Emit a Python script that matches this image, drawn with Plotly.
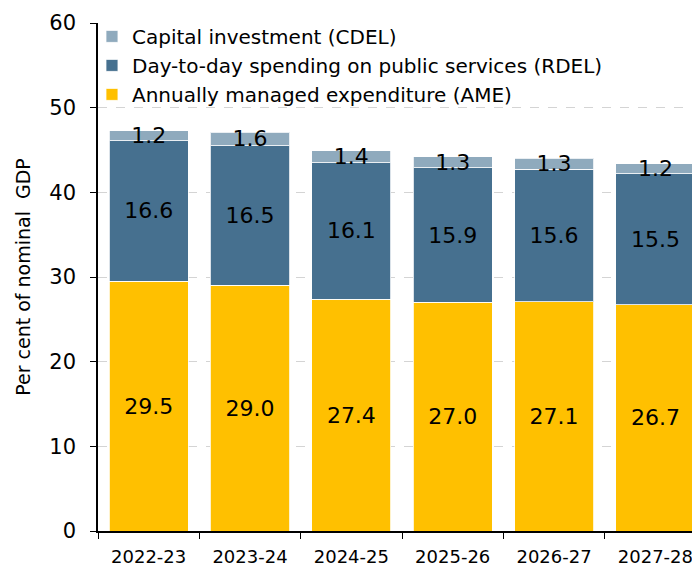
import plotly.graph_objects as go

years = ["2022-23", "2023-24", "2024-25", "2025-26", "2026-27", "2027-28"]
ame = [29.5, 29.0, 27.4, 27.0, 27.1, 26.7]
rdel = [16.6, 16.5, 16.1, 15.9, 15.6, 15.5]
cdel = [1.2, 1.6, 1.4, 1.3, 1.3, 1.2]
y_ticks = [0, 10, 20, 30, 40, 50, 60]

FONT = "DejaVu Sans"
COL_AME = "#FFC000"
COL_RDEL = "#46708F"
COL_CDEL = "#8FAABD"

fig = go.Figure()

def add(name, vals, color):
    fig.add_trace(go.Bar(
        x=years, y=vals, name=name,
        marker=dict(color=color, line=dict(color="rgba(255,255,255,0.8)", width=1)),
        text=[f"{v:.1f}" for v in vals],
        textposition="inside", insidetextanchor="middle",
        constraintext="none",
        textfont=dict(family=FONT, size=22, color="black"),
    ))

add("Annually managed expenditure (AME)", ame, COL_AME)
add("Day-to-day spending on public services (RDEL)", rdel, COL_RDEL)
add("Capital investment (CDEL)", cdel, COL_CDEL)

# the page body has an 8px margin, so the figure is sized to fit the 700x568 window
fig.update_layout(
    width=692, height=560,
    barmode="stack", bargap=0.22,
    plot_bgcolor="white", paper_bgcolor="white",
    margin=dict(l=90, r=0, t=15, b=37),
    font=dict(family=FONT, color="black"),
    showlegend=True,
    legend=dict(
        x=-0.01, y=1.012, xanchor="left", yanchor="top",
        traceorder="reversed",
        font=dict(family=FONT, size=20, color="black"),
        bgcolor="rgba(255,255,255,0)",
        itemwidth=30, tracegroupgap=0,
    ),
    xaxis=dict(
        range=[-0.5, 5.44],
        showline=True, linecolor="black", linewidth=1.5,
        ticks="outside", tickson="boundaries", ticklen=6, tickcolor="black",
        tickfont=dict(family=FONT, size=18, color="black"),
        ticklabelstandoff=9,
        showgrid=False, automargin=False,
    ),
    yaxis=dict(
        range=[0, 60], tickvals=y_ticks,
        showline=True, linecolor="black", linewidth=1.5,
        ticks="outside", ticklen=6, tickcolor="black",
        tickfont=dict(family=FONT, size=21, color="black"),
        ticklabelstandoff=10,
        showgrid=True, gridcolor="#d4d4d4", griddash="dash", gridwidth=1,
        zeroline=False, automargin=False,
        title=dict(text="Per cent of nominal  GDP", font=dict(family=FONT, size=19, color="black"), standoff=14),
    ),
)

fig.write_html("out.html")
